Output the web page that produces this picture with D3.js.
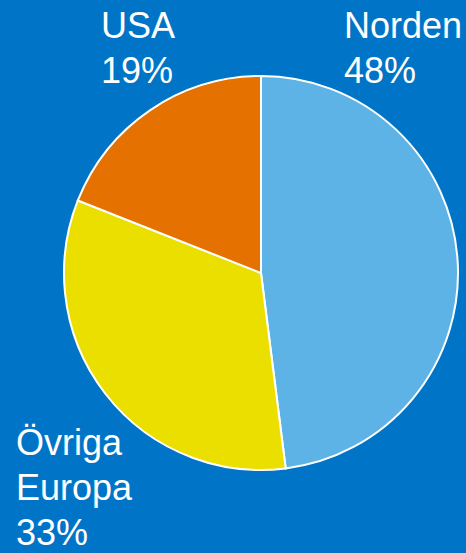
<!DOCTYPE html>
<html lang="sv">
<head>
  <meta charset="utf-8">
  <title>Fördelning</title>
  <script src="https://d3js.org/d3.v7.min.js"></script>
  <style>
    html, body { margin: 0; padding: 0; background: #0075c7; }
    svg { display: block; }
    .lbl { font-family: "Liberation Sans", Arial, sans-serif; font-size: 36px; fill: #fff; }
  </style>
</head>
<body>
  <script>
  var regions = ['Norden', 'Övriga Europa', 'USA'];
  var shares = [48, 33, 19];
  var colors = ['#5eb3e6', '#ebdf00', '#e57200'];
  // label lines per slice
  var labelLines = [['Norden', '48%'], ['Övriga', 'Europa', '33%'], ['USA', '19%']];

  var w = 466, h = 553;
  var cx = 261, cy = 273, r = 197;

  var svg = d3.select('body').append('svg')
      .attr('width', w)
      .attr('height', h);

  var pie = d3.pie().sort(null).value(function(d){ return d; });
  var arc = d3.arc().innerRadius(0).outerRadius(r);

  var g = svg.append('g').attr('transform', 'translate(' + [cx, cy] + ')');
  g.selectAll('path')
    .data(pie(shares))
    .enter().append('path')
      .attr('d', arc)
      .style('fill', function(d, i){ return colors[i]; })
      .style('stroke', '#fff')
      .style('stroke-width', 2);

  // label anchors (top-left x, first baseline)
  var labelPos = [[344, 38], [16, 455], [101, 38]];
  var lineH = 45;
  labelLines.forEach(function(lines, i){
    var t = svg.append('text')
      .attr('class', 'lbl')
      .attr('x', labelPos[i][0])
      .attr('y', labelPos[i][1]);
    lines.forEach(function(s, j){
      t.append('tspan')
        .attr('x', labelPos[i][0])
        .attr('dy', j === 0 ? 0 : lineH)
        .text(s);
    });
  });
  </script>
</body>
</html>
